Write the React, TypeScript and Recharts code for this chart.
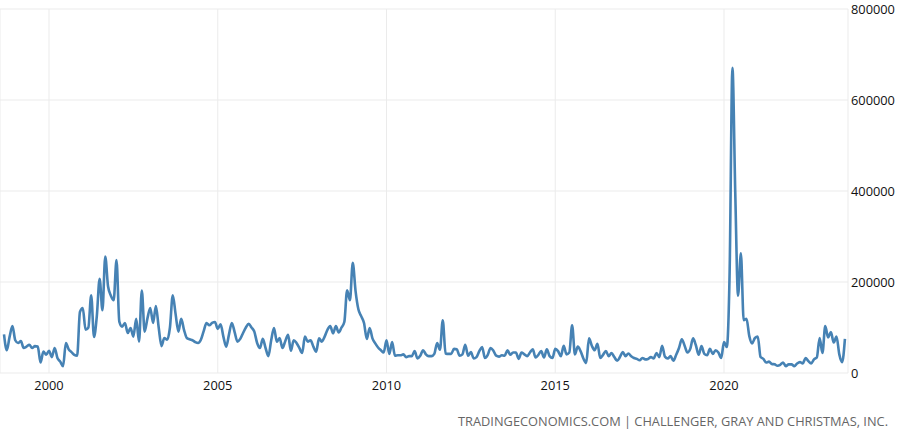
import React from "react";
import { LineChart, Line, XAxis, YAxis, CartesianGrid } from "recharts";

// Monthly job cuts (Challenger), Sep 1998 – Aug 2023
const y1998 = [85000, 50000, 80000, 103000]; // Sep–Dec
const y1999 = [72000, 66000, 70000, 55000, 58000, 62000, 55000, 59000, 58000, 23000, 47000, 40000];
const y2000 = [49000, 35000, 55000, 33000, 25000, 15000, 66000, 52000, 46000, 40000, 38000, 134000];
const y2001 = [143000, 95000, 100000, 171000, 79000, 125000, 207000, 138000, 256000, 190000, 170000, 160000];
const y2002 = [248000, 113000, 102000, 110000, 88000, 99000, 80000, 119000, 69000, 181000, 91000, 120000];
const y2003 = [143000, 110000, 147000, 100000, 59000, 77000, 73000, 100000, 171000, 130000, 91000, 119000];
const y2004 = [95000, 77000, 74000, 72000, 68000, 66000, 73000, 92000, 110000, 105000, 110000, 112000];
const y2005 = [97000, 107000, 80000, 58000, 85000, 110000, 90000, 69000, 75000, 88000, 100000, 108000];
const y2006 = [100000, 91000, 66000, 55000, 75000, 55000, 37000, 72000, 99000, 69000, 77000, 55000];
const y2007 = [70000, 84000, 49000, 72000, 66000, 55000, 44000, 80000, 69000, 72000, 58000, 47000];
const y2008 = [76000, 69000, 80000, 95000, 103000, 87000, 103000, 89000, 100000, 112000, 182000, 160000];
const y2009 = [242000, 180000, 140000, 125000, 110000, 75000, 99000, 76000, 65000, 56000, 50000, 45000];
const y2010 = [72000, 42000, 68000, 38000, 39000, 39000, 41000, 35000, 37000, 37000, 48000, 32000];
const y2011 = [38000, 50000, 41000, 37000, 37000, 42000, 66000, 51000, 116000, 43000, 42000, 42000];
const y2012 = [53000, 52000, 38000, 41000, 62000, 38000, 46000, 32000, 35000, 48000, 57000, 33000];
const y2013 = [40000, 55000, 49000, 38000, 36000, 39000, 38000, 50000, 40000, 45000, 45000, 31000];
const y2014 = [45000, 41000, 37000, 45000, 52000, 34000, 40000, 48000, 34000, 52000, 37000, 33000];
const y2015 = [53000, 48000, 37000, 60000, 41000, 45000, 105000, 41000, 58000, 48000, 32000, 22000];
const y2016 = [76000, 60000, 50000, 64000, 33000, 40000, 48000, 37000, 44000, 35000, 27000, 35000];
const y2017 = [46000, 37000, 43000, 37000, 33000, 31000, 28000, 33000, 30000, 31000, 35000, 32000];
const y2018 = [44000, 35000, 60000, 36000, 32000, 37000, 27000, 40000, 55000, 74000, 60000, 45000];
const y2019 = [53000, 76000, 61000, 40000, 59000, 42000, 39000, 53000, 42000, 50000, 45000, 33000];
const y2020 = [68000, 57000, 222000, 671000, 397000, 170000, 263000, 116000, 119000, 81000, 65000, 77000];
const y2021 = [80000, 35000, 31000, 23000, 25000, 20000, 19000, 16000, 18000, 23000, 15000, 19000];
const y2022 = [19000, 15000, 21000, 24000, 21000, 33000, 26000, 21000, 30000, 34000, 77000, 44000];
const y2023 = [103000, 78000, 90000, 67000, 80000, 41000, 24000, 75000]; // Jan–Aug

const seriesByYear: [number, number, number[]][] = [
  [1998, 8, y1998], [1999, 0, y1999], [2000, 0, y2000], [2001, 0, y2001], [2002, 0, y2002],
  [2003, 0, y2003], [2004, 0, y2004], [2005, 0, y2005], [2006, 0, y2006], [2007, 0, y2007],
  [2008, 0, y2008], [2009, 0, y2009], [2010, 0, y2010], [2011, 0, y2011], [2012, 0, y2012],
  [2013, 0, y2013], [2014, 0, y2014], [2015, 0, y2015], [2016, 0, y2016], [2017, 0, y2017],
  [2018, 0, y2018], [2019, 0, y2019], [2020, 0, y2020], [2021, 0, y2021], [2022, 0, y2022],
  [2023, 0, y2023],
];

const xTicks = [2000, 2005, 2010, 2015, 2020];
const yTicks = [0, 200000, 400000, 600000, 800000];
const SOURCE = "TRADINGECONOMICS.COM | CHALLENGER, GRAY AND CHRISTMAS, INC.";

const data = seriesByYear.flatMap(([year, start, vals]) =>
  vals.map((v, k) => ({ t: year + (start + k) / 12, v }))
);

const FONT = "'Open Sans', 'DejaVu Sans', sans-serif";

export default function App() {
  return (
    <div style={{ position: "absolute", left: 0, top: 0, width: 900, height: 430, background: "#fff" }}>
      <LineChart width={900} height={430} data={data} margin={{ top: 9, right: 0, bottom: 0, left: 0 }}>
        <CartesianGrid stroke="#ebebeb" strokeWidth={1} />
        <XAxis
          dataKey="t"
          type="number"
          domain={[1998.548, 2023.674]}
          ticks={xTicks}
          allowDataOverflow
          axisLine={false}
          tickLine={false}
          tickSize={0}
          tickMargin={8}
          height={57}
          tick={{ fill: "#111", fontSize: 12.8, fontFamily: FONT }}
        />
        <YAxis
          orientation="right"
          domain={[0, 800000]}
          ticks={yTicks}
          width={52}
          axisLine={false}
          tickLine={false}
          tickSize={0}
          tickMargin={3}
          tick={{ fill: "#111", fontSize: 12.8, fontFamily: FONT, textAnchor: "start" }}
        />
        <Line
          type="monotone"
          dataKey="v"
          stroke="#4682b4"
          strokeWidth={2.6}
          dot={false}
          isAnimationActive={false}
        />
      </LineChart>
      <svg width={900} height={430} style={{ position: "absolute", left: 0, top: 0, pointerEvents: "none" }}>
        <text x={888} y={426} textAnchor="end" fill="#666" fontSize={12.8} fontFamily={FONT}>
          {SOURCE}
        </text>
      </svg>
    </div>
  );
}
